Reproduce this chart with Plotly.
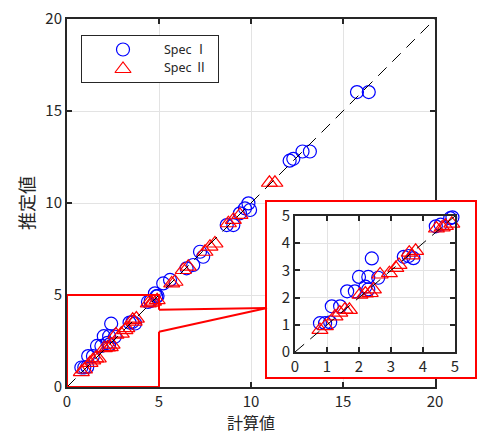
import plotly.graph_objects as go

# ---- data ----
spec1_x = [0.78, 0.94, 1.10, 1.15, 1.41, 1.63, 1.87, 2.29, 2.20, 2.00, 2.29, 2.60, 2.40,
           3.40, 3.55, 3.70, 4.40, 4.55, 4.85, 4.92, 4.78, 5.23, 5.60, 6.50, 6.86, 7.23, 7.40,
           8.68, 9.04, 9.40, 9.67, 9.86, 9.95, 12.10, 12.30, 12.80, 13.20, 15.76, 16.40]
spec1_y = [1.06, 1.06, 1.09, 1.68, 1.68, 2.23, 2.23, 2.30, 2.40, 2.76, 2.76, 2.73, 3.44,
           3.50, 3.53, 3.45, 4.62, 4.68, 4.92, 4.95, 5.09, 5.63, 5.82, 6.45, 6.63, 7.35, 7.08,
           8.80, 8.80, 9.44, 9.71, 9.98, 9.62, 12.30, 12.40, 12.80, 12.80, 16.03, 16.03]

spec2_x = [0.78, 0.95, 1.25, 1.40, 1.56, 1.70, 2.03, 2.20, 2.35, 2.45, 2.66, 2.95, 3.15,
           3.25, 3.57, 3.77, 3.65, 4.42, 4.60, 4.70, 4.90, 5.69, 5.87, 6.32, 6.59, 7.50,
           7.77, 8.04, 8.77, 9.04, 9.40, 11.00, 11.30]
spec2_y = [0.81, 0.95, 1.31, 1.45, 1.56, 1.55, 2.11, 2.15, 2.17, 2.30, 2.85, 2.90, 3.09,
           3.20, 3.65, 3.72, 3.55, 4.54, 4.58, 4.64, 4.72, 5.63, 5.72, 6.36, 6.54, 7.35,
           7.63, 7.80, 8.90, 9.08, 9.35, 11.10, 11.10]

diag_main = [0, 20]
diag_inset = [0, 5]
main_ticks = [0, 5, 10, 15, 20]
inset_ticks = [0, 1, 2, 3, 4, 5]
zoom_lo, zoom_hi = 0, 5

labels = {"x": "計算値", "y": "推定値", "s1": "Spec Ⅰ", "s2": "Spec Ⅱ"}

W, H = 482, 434
FONT = "Noto Sans CJK JP"
LFONT = "Noto Sans, Noto Sans CJK JP"
BLUE = "#0000FF"
RED = "#FF0000"
INK = "#262626"
GRID = "#e3e3e3"

main_xd = [67 / W, 435 / W]
main_yd = [1 - 387 / H, 1 - 19 / H]
box_xd = [267 / W, 475 / W]
box_yd = [1 - 377 / H, 1 - 202 / H]
ins_xd = [295 / W, 455 / W]
ins_yd = [1 - 352 / H, 1 - 216 / H]
leg_xd = [82 / W, 218 / W]
leg_yd = [1 - 82 / H, 1 - 36 / H]


def in_zoom(xs, ys):
    pairs = [(a, b) for a, b in zip(xs, ys) if zoom_lo <= a <= zoom_hi and zoom_lo <= b <= zoom_hi]
    return [p[0] for p in pairs], [p[1] for p in pairs]


fig = go.Figure()

circ = dict(symbol="circle-open", size=13, color=BLUE, line=dict(width=1.2, color=BLUE))
tri = dict(symbol="triangle-up-open", size=14, color=RED, line=dict(width=1.2, color=RED))
dash_line = dict(color="black", width=1, dash="12px,8px")

# main
fig.add_trace(go.Scatter(x=spec1_x, y=spec1_y, mode="markers", marker=circ,
                         name=labels["s1"], xaxis="x", yaxis="y"))
fig.add_trace(go.Scatter(x=spec2_x, y=spec2_y, mode="markers", marker=tri,
                         name=labels["s2"], xaxis="x", yaxis="y"))
fig.add_trace(go.Scatter(x=diag_main, y=diag_main, mode="lines", line=dash_line,
                         xaxis="x", yaxis="y", hoverinfo="skip"))

# legend box subplot (key symbols)
leg_rows = [32.5, 14.5]
fig.add_trace(go.Scatter(x=[41], y=[leg_rows[0]], mode="markers", marker=circ,
                         xaxis="x2", yaxis="y2", hoverinfo="skip"))
fig.add_trace(go.Scatter(x=[41], y=[leg_rows[1] - 1.5], mode="markers", marker=tri,
                         xaxis="x2", yaxis="y2", hoverinfo="skip"))

# inset box (empty frame subplot)
fig.add_trace(go.Scatter(x=[], y=[], mode="markers", xaxis="x3", yaxis="y3", hoverinfo="skip"))

# inset
i1x, i1y = in_zoom(spec1_x, spec1_y)
i2x, i2y = in_zoom(spec2_x, spec2_y)
fig.add_trace(go.Scatter(x=i1x, y=i1y, mode="markers", marker=circ,
                         xaxis="x4", yaxis="y4", cliponaxis=False))
fig.add_trace(go.Scatter(x=i2x, y=i2y, mode="markers", marker=tri,
                         xaxis="x4", yaxis="y4", cliponaxis=False))
fig.add_trace(go.Scatter(x=diag_inset, y=diag_inset, mode="lines", line=dash_line,
                         xaxis="x4", yaxis="y4", hoverinfo="skip"))

tickfont = dict(family=FONT, size=15, color=INK)
ax_common = dict(showline=True, linecolor=INK, linewidth=2, mirror="allticks",
                 ticks="inside", ticklen=5, tickwidth=2, tickcolor=INK,
                 showgrid=True, gridcolor=GRID, gridwidth=1, zeroline=False,
                 tickfont=tickfont, automargin=False)
blank = dict(showgrid=False, zeroline=False, showticklabels=False, ticks="",
             automargin=False, fixedrange=True)

fig.update_layout(
    width=W, height=H,
    margin=dict(l=0, r=0, t=0, b=0, autoexpand=False),
    paper_bgcolor="white", plot_bgcolor="white",
    showlegend=False,
    xaxis=dict(domain=main_xd, range=[0, 20], tickvals=main_ticks, anchor="y", **ax_common),
    yaxis=dict(domain=main_yd, range=[0, 20], tickvals=main_ticks, anchor="x",
               title=dict(text=labels["y"], font=dict(family=FONT, size=18, color=INK),
                          standoff=6), **ax_common),
    xaxis2=dict(domain=leg_xd, range=[0, 136], anchor="y2", showline=True, mirror=True,
                linecolor=INK, linewidth=1, **blank),
    yaxis2=dict(domain=leg_yd, range=[0, 46], anchor="x2", showline=True, mirror=True,
                linecolor=INK, linewidth=1, **blank),
    xaxis3=dict(domain=box_xd, range=[0, 1], anchor="y3", showline=True, mirror=True,
                linecolor=RED, linewidth=1.5, **blank),
    yaxis3=dict(domain=box_yd, range=[0, 1], anchor="x3", showline=True, mirror=True,
                linecolor=RED, linewidth=1.5, **blank),
    xaxis4=dict(domain=ins_xd, range=[0, 5], tickvals=inset_ticks, anchor="y4", **ax_common),
    yaxis4=dict(domain=ins_yd, range=[0, 5], tickvals=inset_ticks, anchor="x4", **ax_common),
)

# x-axis title, centred under the main axes
fig.add_annotation(text=labels["x"], xref="paper", yref="paper",
                   x=(main_xd[0] + main_xd[1]) / 2, y=1 - 422 / H,
                   xanchor="center", yanchor="middle", showarrow=False, borderpad=0,
                   font=dict(family=FONT, size=16, color=INK))

# legend texts
for txt, yy in zip((labels["s1"], labels["s2"]), leg_rows):
    fig.add_annotation(text=txt, xref="x2", yref="y2", x=80, y=yy, xanchor="left",
                       yanchor="middle", showarrow=False,
                       font=dict(family=LFONT, size=12.5, color=INK))

# zoom rectangle (in data coordinates) with a gap where the callout attaches
y_top_att, y_bot_att = 4.2, 3.0
fig.add_shape(type="path", xref="x", yref="y", layer="above",
              path=f"M{zoom_hi},{y_bot_att} L{zoom_hi},{zoom_lo} L{zoom_lo},{zoom_lo} "
                   f"L{zoom_lo},{zoom_hi} L{zoom_hi},{zoom_hi} L{zoom_hi},{y_top_att}",
              line=dict(color=RED, width=2))


def to_paper_x(v):
    return main_xd[0] + (main_xd[1] - main_xd[0]) * v / 20


def to_paper_y(v):
    return main_yd[0] + (main_yd[1] - main_yd[0]) * v / 20


join_x = box_xd[0]
join_y = 1 - 308 / H
for yv in (y_top_att, y_bot_att):
    fig.add_shape(type="line", xref="paper", yref="paper", layer="above",
                  x0=to_paper_x(zoom_hi), y0=to_paper_y(yv), x1=join_x, y1=join_y,
                  line=dict(color=RED, width=2))

fig.update_traces(showlegend=False)
fig.write_html("out.html")
